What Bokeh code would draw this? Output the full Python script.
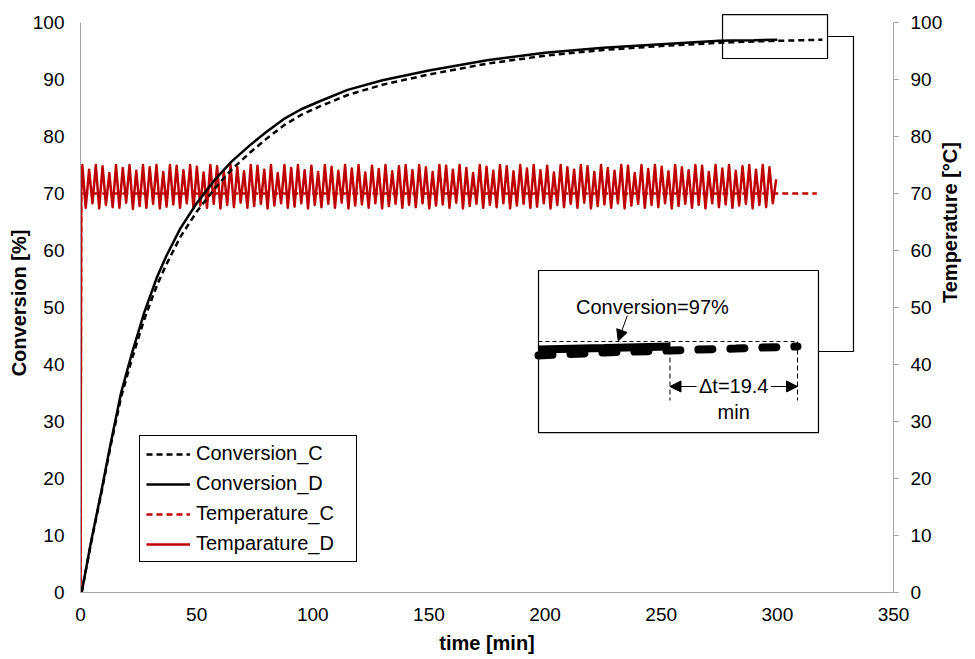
import math
from bokeh.plotting import figure
from bokeh.models import (Range1d, LinearAxis, SingleIntervalTicker, Legend, LegendItem,
                          BoxAnnotation, Label, Arrow, NormalHead)
from bokeh.embed import file_html
from bokeh.resources import INLINE

# ---------------- data ----------------
CONV_D_TIME = [0.5, 4.5, 9, 13, 17.5, 22, 27.5, 33, 37, 43, 50, 58, 65, 73, 80, 88, 95, 103,
               115, 130, 150, 175, 200, 225, 250, 275, 280, 290, 300]
CONV_D = [0, 8.8, 17.8, 26.2, 35.1, 41.8, 49.2, 55.4, 59.1, 63.9, 68.3, 72.5, 75.6, 78.5, 80.8,
          83.2, 84.8, 86.2, 88.2, 89.9, 91.6, 93.4, 94.7, 95.6, 96.2, 96.8, 96.85, 96.92, 97.0]

CONV_C_TIME = [0.5, 4.5, 9, 13, 17.5, 22, 27.5, 33, 37, 43, 50, 58, 65, 73, 80, 88, 95, 103,
               115, 130, 150, 175, 200, 225, 250, 275, 280, 290, 300, 310, 319.4]
CONV_C = [0, 8.6, 17.5, 25.8, 34.3, 40.8, 48.0, 54.0, 57.6, 62.4, 66.8, 71.0, 74.2, 77.2, 79.6,
          82.1, 83.8, 85.3, 87.3, 89.1, 90.9, 92.8, 94.2, 95.2, 95.9, 96.45, 96.55, 96.7, 96.8,
          96.9, 97.0]

TEMP_C_TIME = [0, 0.3, 317]
TEMP_C = [0, 70, 70]

# Temperature_D: start, jump, then logged peaks/troughs every TEMP_D_STEP minutes
TEMP_D_START_TIME = [0, 0.3]
TEMP_D_START = [0, 70]
TEMP_D_FIRST = 0.8
TEMP_D_STEP = 1.45
TEMP_D_EXTREMES = [
    75, 67.5, 74.2, 68.3, 75, 67.4, 74.8, 68.0, 73.6, 67.6, 75, 67.5, 74.5, 68.4, 75, 67.3, 74.0, 67.8, 75, 67.5,
    74.6, 68.2, 75, 67.4, 73.8, 67.7, 75, 68.1, 74.9, 67.5, 74.1, 68.3, 75, 67.4, 74.7, 67.9, 73.7, 67.5, 75, 68.2,
    74.8, 67.4, 74.0, 68.0, 75, 67.6, 74.6, 68.4, 73.9, 67.5, 75, 67.8, 74.9, 68.2, 74.2, 67.4, 75, 67.9, 73.6, 68.3,
    75, 67.5, 74.5, 67.7, 75, 68.3, 74.1, 67.4, 74.9, 68.0, 73.8, 67.6, 75, 68.2, 74.7, 67.5, 74.0, 68.4, 75, 67.4,
    74.4, 67.9, 75, 68.1, 73.7, 67.5, 74.9, 68.3, 74.3, 67.4, 75, 67.8, 73.9, 68.2, 74.8, 67.5, 75, 68.0, 74.1, 67.6,
    75, 68.3, 74.6, 67.4, 73.8, 67.9, 75, 68.1, 74.9, 67.5, 74.2, 68.4, 75, 67.4, 74.5, 67.8, 73.6, 68.2, 75, 67.5,
    74.7, 68.0, 74.0, 67.6, 75, 68.3, 74.8, 67.4, 73.9, 67.9, 75, 68.2, 74.4, 67.5, 75, 67.7, 74.1, 68.3, 74.9, 67.4,
    73.7, 68.0, 75, 67.6, 74.6, 68.2, 74.2, 67.5, 75, 68.4, 74.8, 67.4, 73.8, 67.8, 75, 68.1, 74.5, 67.5, 74.0, 68.3,
    75, 67.4, 74.9, 67.9, 73.6, 68.2, 75, 67.5, 74.3, 68.0, 75, 67.6, 74.7, 68.3, 73.9, 67.4, 75, 67.8, 74.6, 68.2,
    74.1, 67.5, 75, 68.0, 74.9, 67.4, 73.8, 68.3, 75, 67.6, 74.4, 68.1, 75, 67.5, 74.0, 67.9, 74.8, 68.2, 75, 67.4,
    74.2, 68.0, 75, 67.6, 74.6, 68.3, 72.5,
]

LEGEND_LABELS = ["Conversion_C", "Conversion_D", "Temperature_C", "Temparature_D"]
X_TICK_STEP = 50
Y_TICK_STEP = 10

# ---------------- styles ----------------
RED = "#C00000"
AXIS_GREY = "#A6A6A6"
FONT = "Liberation Sans"
TICK_FS = "19px"
TITLE_FS = "20px"
TEXT_FS = "20px"

temp_d_time = TEMP_D_START_TIME + [TEMP_D_FIRST + i * TEMP_D_STEP for i in range(len(TEMP_D_EXTREMES))]
temp_d = TEMP_D_START + TEMP_D_EXTREMES

# y range slightly above 100 so the zoom marker above the 100 line stays visible;
# axes are bounded to 0..100
Y_TOP = 101.6
p = figure(width=975, height=659, x_range=Range1d(0, 350), y_range=Range1d(0, Y_TOP),
           min_border_left=80, min_border_right=82, min_border_top=13, min_border_bottom=67,
           output_backend="svg", toolbar_location=None)
p.outline_line_color = None
p.xgrid.visible = False
p.ygrid.visible = False
p.background_fill_color = "white"

def style_axis(ax, tick_out):
    ax.axis_line_color = AXIS_GREY
    ax.axis_line_width = 1
    ax.major_tick_line_color = AXIS_GREY
    ax.major_tick_out = tick_out
    ax.major_tick_in = 0
    ax.minor_tick_line_color = None
    ax.major_label_text_font = FONT
    ax.major_label_text_font_size = TICK_FS
    ax.major_label_text_color = "black"
    ax.axis_label_text_font = FONT
    ax.axis_label_text_font_size = TITLE_FS
    ax.axis_label_text_font_style = "bold"
    ax.axis_label_text_color = "black"

xa = p.xaxis[0]
xa.ticker = SingleIntervalTicker(interval=X_TICK_STEP)
xa.axis_label = "time [min]"
style_axis(xa, 0)
xa.major_label_standoff = 11
xa.axis_label_standoff = 8

ya = p.yaxis[0]
ya.ticker = SingleIntervalTicker(interval=Y_TICK_STEP)
ya.bounds = (0, 100)
ya.axis_label = "Conversion [%]"
style_axis(ya, 0)
ya.major_label_standoff = 12
ya.axis_label_standoff = 0

p.extra_y_ranges = {"temp": Range1d(0, Y_TOP)}
ra = LinearAxis(y_range_name="temp", ticker=SingleIntervalTicker(interval=Y_TICK_STEP),
                axis_label="Temperature [°C]", bounds=(0, 100))
style_axis(ra, 5)
ra.major_label_standoff = 12
ra.axis_label_standoff = 5
try:
    ra.axis_label_orientation = math.pi / 2
except Exception:
    pass
p.add_layout(ra, "right")

# ---------------- main series ----------------
r_tc = p.line(TEMP_C_TIME, TEMP_C, line_color=RED, line_width=2.5, line_dash="6 4",
              y_range_name="temp")
r_td = p.line(temp_d_time, temp_d, line_color=RED, line_width=2.5, line_join="round",
              y_range_name="temp")
r_cc = p.line(CONV_C_TIME, CONV_C, line_color="black", line_width=2.5, line_dash="6 4")
r_cd = p.line(CONV_D_TIME, CONV_D, line_color="black", line_width=2.5)

legend = Legend(items=[LegendItem(label=LEGEND_LABELS[0], renderers=[r_cc]),
                       LegendItem(label=LEGEND_LABELS[1], renderers=[r_cd]),
                       LegendItem(label=LEGEND_LABELS[2], renderers=[r_tc]),
                       LegendItem(label=LEGEND_LABELS[3], renderers=[r_td])],
                location=(59, 30), orientation="vertical")
legend.border_line_color = "black"
legend.border_line_width = 1
legend.border_line_alpha = 1
legend.background_fill_color = "white"
legend.background_fill_alpha = 1
legend.label_text_font = FONT
legend.label_text_font_size = TEXT_FS
legend.label_text_color = "black"
legend.glyph_width = 44
legend.glyph_height = 20
legend.label_height = 20
legend.label_width = 154
legend.spacing = 7
legend.padding = 6
legend.margin = 0
legend.label_standoff = 6
p.add_layout(legend, "center")

# ---------------- zoom marker and inset ----------------
ZOOM_BOX = dict(left=276.4, right=321.6, bottom=93.7, top=101.42)
INSET_BOX = dict(left=197.17, right=317.7, bottom=28.07, top=56.5)
CONNECTOR_X = 332.77
CONNECTOR_Y_TOP = 97.56
CONNECTOR_Y_BOTTOM = 42.29
INSET_T_LEFT = 280.0
INSET_KX = 2.83
INSET_KY = 3.509
INSET_Y97 = 43.17
INSET_REF_Y = 44.04
INSET_MARK_BOTTOM = 33.69
ARROW_Y = 36.15
MIN_Y = 31.76
TARGET = 97.0

box_style = dict(fill_color=None, fill_alpha=0, line_color="black", line_alpha=1, line_width=1.2)
p.add_layout(BoxAnnotation(**box_style, **ZOOM_BOX))
p.add_layout(BoxAnnotation(**box_style, **INSET_BOX))

# connector from zoom box to inset
p.line([ZOOM_BOX["right"], CONNECTOR_X, CONNECTOR_X, INSET_BOX["right"]],
       [CONNECTOR_Y_TOP, CONNECTOR_Y_TOP, CONNECTOR_Y_BOTTOM, CONNECTOR_Y_BOTTOM],
       line_color="black", line_width=1.2)

def ix(ts):
    return [INSET_BOX["left"] + (t - INSET_T_LEFT) * INSET_KX for t in ts]

def iy(vs):
    return [INSET_Y97 + (v - TARGET) * INSET_KY for v in vs]

d_sel = [i for i, t in enumerate(CONV_D_TIME) if t >= INSET_T_LEFT]
c_sel = [i for i, t in enumerate(CONV_C_TIME) if t >= INSET_T_LEFT]
p.line(ix([CONV_D_TIME[i] for i in d_sel]), iy([CONV_D[i] for i in d_sel]),
       line_color="black", line_width=8)
p.line(ix([CONV_C_TIME[i] for i in c_sel]), iy([CONV_C[i] for i in c_sel]),
       line_color="black", line_width=8, line_dash="14 18", line_cap="round")

t_end_d = CONV_D_TIME[-1]
t_end_c = CONV_C_TIME[-1]
x_d, x_c = ix([t_end_d, t_end_c])
p.line([INSET_BOX["left"], x_c], [INSET_REF_Y, INSET_REF_Y], line_color="black",
       line_width=1, line_dash="4 3")
for xv in (x_d, x_c):
    p.line([xv, xv], [INSET_REF_Y, INSET_MARK_BOTTOM], line_color="black", line_width=1,
           line_dash="5 3")

label_style = dict(text_align="center", text_baseline="middle", text_font=FONT,
                   text_font_size=TEXT_FS, text_color="black")
p.add_layout(Label(x=246.2, y=50.18, text="Conversion=97%", **label_style))
p.add_layout(Arrow(end=NormalHead(size=11, fill_color="black", line_color="black"),
                   x_start=235.4, y_start=48.6, x_end=231.5, y_end=INSET_REF_Y + 0.1,
                   line_color="black", line_width=1))

xm = (x_d + x_c) / 2
p.add_layout(Label(x=xm, y=ARROW_Y, text="\u0394t=%.1f" % (t_end_c - t_end_d), **label_style))
p.add_layout(Label(x=xm, y=MIN_Y, text="min", **label_style))
p.add_layout(Arrow(end=NormalHead(size=11, fill_color="black", line_color="black"),
                   x_start=xm - 16, y_start=ARROW_Y, x_end=x_d, y_end=ARROW_Y,
                   line_color="black", line_width=1))
p.add_layout(Arrow(end=NormalHead(size=11, fill_color="black", line_color="black"),
                   x_start=xm + 16, y_start=ARROW_Y, x_end=x_c, y_end=ARROW_Y,
                   line_color="black", line_width=1))

open("out.html", "w").write(file_html(p, INLINE))
